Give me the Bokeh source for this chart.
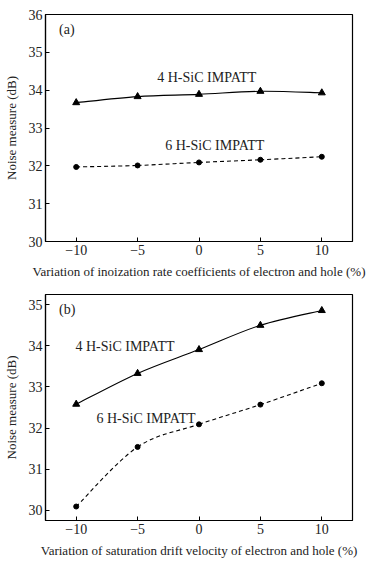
from bokeh.plotting import figure
from bokeh.layouts import column
from bokeh.models import FixedTicker, Range1d
from bokeh.core.properties import value
from bokeh.embed import file_html
from bokeh.resources import INLINE

variation = [-10, -5, 0, 5, 10]

# panel (a): ionization rate coefficients
a_4h = [33.67, 33.83, 33.89, 33.97, 33.93]
a_6h = [31.97, 32.01, 32.09, 32.16, 32.24]

# panel (b): saturation drift velocity
b_4h = [32.58, 33.33, 33.91, 34.50, 34.86]
b_6h = [30.09, 31.54, 32.09, 32.57, 33.09]

x_ticks = [-10, -5, 0, 5, 10]
a_yticks = [30, 31, 32, 33, 34, 35, 36]
b_yticks = [30, 31, 32, 33, 34, 35]

series_names = ["4 H-SiC IMPATT", "6 H-SiC IMPATT"]
xlabel_a = "Variation of inoization rate coefficients of electron and hole (%)"
xlabel_b = "Variation of saturation drift velocity of electron and hole (%)"
ylabel = "Noise measure (dB)"

FONT = "Liberation Serif"


def spline_segments(xs, ys):
    n = len(xs)
    x0, y0, x1, y1, cx0, cy0, cx1, cy1 = [], [], [], [], [], [], [], []
    for i in range(n - 1):
        im = max(i - 1, 0)
        ip2 = min(i + 2, n - 1)
        x0.append(xs[i]); y0.append(ys[i])
        x1.append(xs[i + 1]); y1.append(ys[i + 1])
        cx0.append(xs[i] + (xs[i + 1] - xs[im]) / 6.0)
        cy0.append(ys[i] + (ys[i + 1] - ys[im]) / 6.0)
        cx1.append(xs[i + 1] - (xs[ip2] - xs[i]) / 6.0)
        cy1.append(ys[i + 1] - (ys[ip2] - ys[i]) / 6.0)
    return dict(x0=x0, y0=y0, x1=x1, y1=y1, cx0=cx0, cy0=cy0, cx1=cx1, cy1=cy1)


def make_panel(y4, y6, yr, yticks, xlabel, tag, tag_pos, lab4, lab6, top_border, fh, note_size):
    p = figure(output_backend="svg", toolbar_location=None,
               frame_width=307, frame_height=fh,
               min_border_left=38, min_border_right=16,
               min_border_top=top_border, min_border_bottom=38,
               x_range=Range1d(-12.5, 12.5), y_range=Range1d(*yr))
    p.xgrid.visible = False
    p.ygrid.visible = False
    p.outline_line_color = "black"
    p.outline_line_width = 1.2
    p.background_fill_color = "white"
    p.border_fill_color = "white"

    for ax, ticks in ((p.xaxis, x_ticks), (p.yaxis, yticks)):
        ax.ticker = FixedTicker(ticks=ticks)
        ax.major_tick_in = 4
        ax.major_tick_out = 0
        ax.minor_tick_line_color = None
        ax.axis_line_color = "black"
        ax.axis_line_width = 1.2
        ax.major_tick_line_color = "black"
        ax.major_label_text_font = FONT
        ax.major_label_text_font_size = "14px"
        ax.major_label_text_color = "#222222"
        ax.axis_label_text_font = FONT
        ax.axis_label_text_font_size = "13px"
        ax.axis_label_text_font_style = "normal"
        ax.axis_label_text_color = "#222222"
        ax.major_label_standoff = 3
    p.xaxis.major_label_overrides = {t: (("\u2212" + str(-t)) if t < 0 else str(t)) for t in x_ticks}
    p.xaxis.axis_label = xlabel
    p.yaxis.axis_label = ylabel
    p.xaxis.axis_label_standoff = 6
    p.yaxis.axis_label_standoff = 7

    s4 = spline_segments(variation, y4)
    s6 = spline_segments(variation, y6)
    p.bezier(x0="x0", y0="y0", x1="x1", y1="y1", cx0="cx0", cy0="cy0", cx1="cx1", cy1="cy1",
             source=s4, line_color="black", line_width=1.1)
    p.bezier(x0="x0", y0="y0", x1="x1", y1="y1", cx0="cx0", cy0="cy0", cx1="cx1", cy1="cy1",
             source=s6, line_color="black", line_width=1.1, line_dash="4 3")
    p.scatter(variation, y4, marker="triangle", size=7, color="black")
    p.scatter(variation, y6, marker="circle", size=5, color="black")

    for pos, txt in ((tag_pos, tag), (lab4, series_names[0]), (lab6, series_names[1])):
        p.text(x=[pos[0]], y=[pos[1]], text=[txt], text_font=value(FONT),
               text_font_size=note_size, text_baseline="middle", text_align="left",
               text_color="#222222")
    return p


pa = make_panel(a_4h, a_6h, (30, 36), a_yticks, xlabel_a, "(a)", (-11.4, 35.6),
                (-3.4, 34.34), (-2.75, 32.55), 14, 227, "14px")
pb = make_panel(b_4h, b_6h, (29.75, 35.25), b_yticks, xlabel_b, "(b)", (-11.4, 34.89),
                (-10.06, 33.98), (-8.35, 32.23), 13, 226, "14px")

layout = column(pa, pb, spacing=0)
open("out.html", "w").write(file_html(layout, INLINE))
